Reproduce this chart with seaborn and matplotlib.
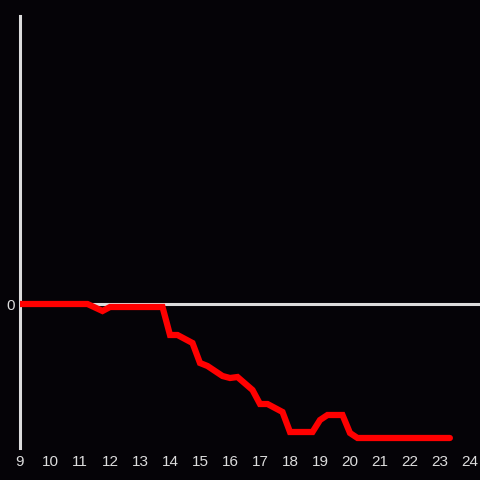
import numpy as np
import pandas as pd
import matplotlib
matplotlib.use("Agg")
import matplotlib.pyplot as plt
import seaborn as sns

# hour of day and value (vertices of the line)
hours = [9.0, 11.25, 11.75, 12.0, 13.75, 14.0, 14.25, 14.75, 15.0, 15.25,
         15.75, 16.0, 16.25, 16.75, 17.0, 17.25, 17.75, 18.0, 18.75, 19.0,
         19.25, 19.75, 20.0, 20.25, 23.33]
values = [0, 0, -0.7, -0.3, -0.3, -3.1, -3.1, -3.9, -5.9, -6.2,
          -7.2, -7.4, -7.3, -8.6, -10.0, -10.0, -10.8, -12.8, -12.8, -11.6,
          -11.1, -11.1, -12.9, -13.4, -13.4]
xticks = list(range(9, 25))

bg = "#050307"
fg = "#dcdcdc"

sns.set_style("dark")
plt.rcParams["font.family"] = ["Liberation Sans", "DejaVu Sans"]

fig = plt.figure(figsize=(4.8, 4.8), dpi=100, facecolor=bg)
ax = fig.add_axes([20 / 480, 32 / 480, 460 / 480, 432 / 480])
ax.set_facecolor(bg)

df = pd.DataFrame({"hour": hours, "value": values})
ax.axhline(0, color=fg, lw=2.2, zorder=1)
sns.lineplot(data=df, x="hour", y="value", ax=ax, color="#ff0000",
             lw=4.5, zorder=3, solid_joinstyle="miter")

ax.set_xlim(9, 9 + 460 / 30)
ax.set_ylim(-14.4, 28.8)
ax.set_xticks(xticks)
ax.set_xticklabels([str(t) for t in xticks])
ax.set_yticks([0])
ax.set_yticklabels(["0"])
ax.tick_params(colors=fg, labelsize=11, length=0, pad=5)
ax.tick_params(axis="y", pad=4)
ax.set_xlabel("")
ax.set_ylabel("")
ax.grid(False)
for side in ["top", "right", "bottom"]:
    ax.spines[side].set_visible(False)
ax.spines["left"].set_color(fg)
ax.spines["left"].set_linewidth(2.2)

fig.savefig("out.png", dpi=100, facecolor=bg)
